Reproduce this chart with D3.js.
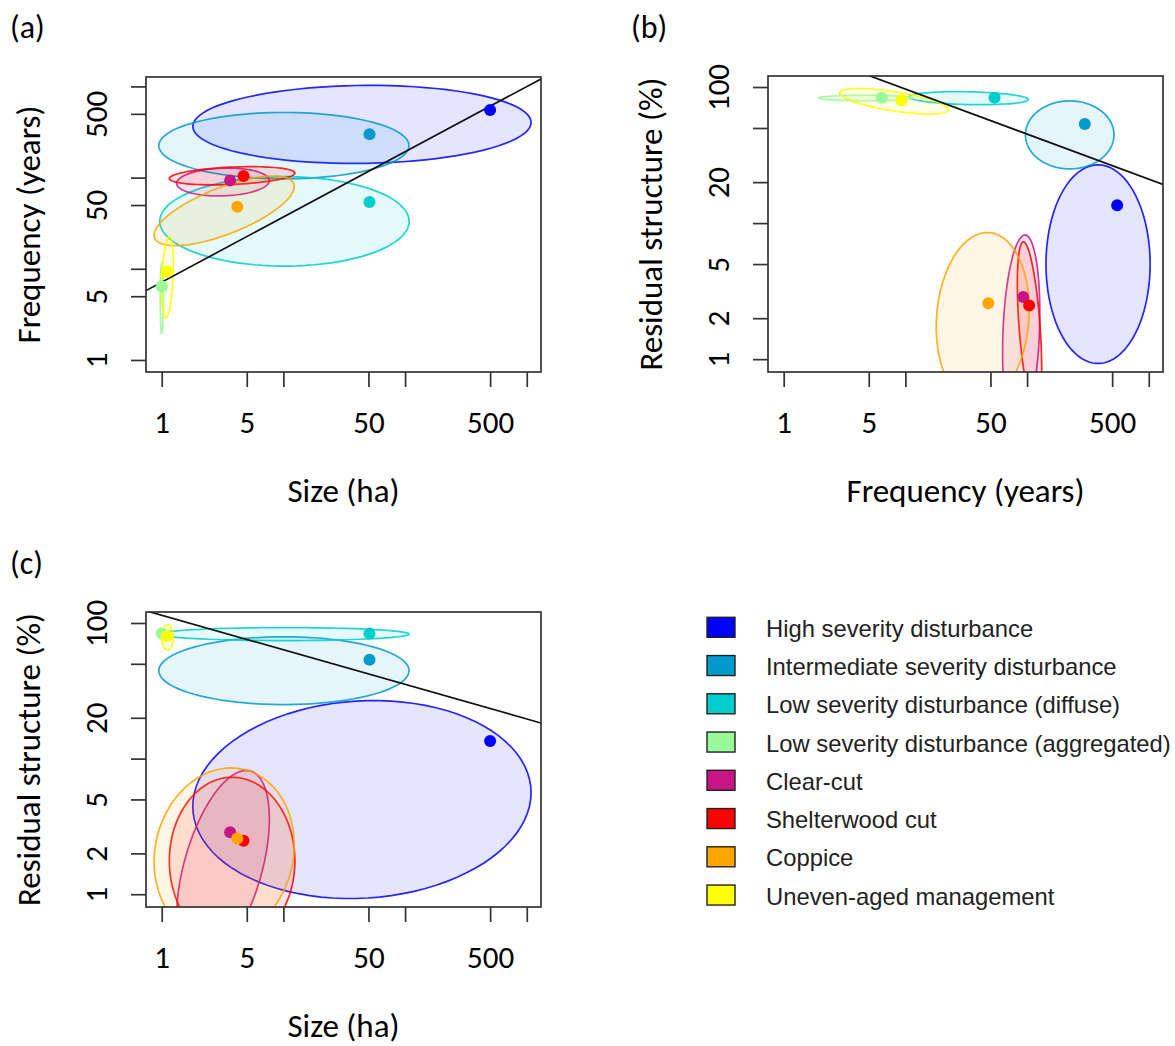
<!DOCTYPE html>
<html><head><meta charset="utf-8">
<script src="https://cdn.jsdelivr.net/npm/d3@7"></script>
<style>
body{margin:0;background:#fff;}
svg{display:block;}
</style></head><body>
<svg id="chart" width="1175" height="1046"></svg>
<script>
// ---------------- DATA ----------------
const groups = ["High severity disturbance","Intermediate severity disturbance","Low severity disturbance (diffuse)",
  "Low severity disturbance (aggregated)","Clear-cut","Shelterwood cut","Coppice","Uneven-aged management"];
const colors = ["#0000FF","#009ACD","#00CDCD","#98FB98","#C71585","#FF0000","#FFA500","#FFFF00"];

// group mean points
const sizeMean  = [500, 51, 51, 1.0, 3.65, 4.7, 4.18, 1.1];      // ha
const freqMean  = [550, 298, 54, 6.4, 93, 104, 48, 9.3];          // years
const residMean = [13.5, 53.5, 83.5, 83.5, 2.86, 2.48, 2.58, 80]; // %

// ellipse centres (data units) and half-widths (log10 decades)
const sizeCentre  = [44.2, 10.1, 10.2, 1.0, 3.19, 3.79, 3.26, 1.117];
const freqCentre  = [383, 224, 33.1, 4.72, 89.5, 104.7, 43.2, 8.07];
const residCentre = [4.99, 44.5, 82.8, 83, 1.58, 1.76, 2.0, 78.5];
const sizeSpread  = [1.39, 1.028, 1.025, 0.012, 0.381, 0.516, 0.576, 0.048];
const freqSpread  = [0.428, 0.364, 0.49, 0.386, 0.153, 0.10, 0.382, 0.448];
const residSpread = [0.73, 0.25, 0.048, 0.02, 0.714, 0.617, 0.63, 0.094];
const rhoSizeFreq  = [0.05, 0, 0, 0, 0.1, 0.3, 0.7, 0.3];
const rhoFreqResid = [0, 0, -0.2, 0, 0.2, -0.5, 0.1, -0.65];
const rhoSizeResid = [0.07, 0, 0, 0, 0.5, 0, 0.1, 0];

// regression lines in log10 space: [intercept, slope]
const fitSizeFreq  = [0.853, 0.715];
const fitFreqResid = [2.316, -0.331];
const fitSizeResid = [2.057, -0.255];

// axis limits and ticks
const sizeLim  = [0.743, 1309];
const freqLimX = [0.743, 1309];
const freqLimY = [0.738, 1268];
const residLim = [0.805, 120.5];
const logTicks    = [1, 5, 10, 50, 100, 500, 1000];
const logLabels   = [1, 5, 50, 500];
const residTicks  = [1, 2, 5, 10, 20, 50, 100];
const residLabels = [1, 2, 5, 20, 100];

// ---------------- DRAW ----------------
const svg = d3.select("#chart");
svg.append("rect").attr("width",1175).attr("height",1046).attr("fill","#fff");
const FONT = "Carlito, Lato, 'Open Sans', sans-serif";
const TICK_FS = 31, TITLE_FS = 33, TAG_FS = 32;
const AXC = "#333";

const panels = [
  {id:"a", box:{x0:146,x1:541,y0:77,y1:372}, xc:sizeCentre, xs:sizeSpread, xm:sizeMean, yc:freqCentre, ys:freqSpread, ym:freqMean,
   rho:rhoSizeFreq, fit:fitSizeFreq, xlim:sizeLim, ylim:freqLimY, yt:logTicks, yl:logLabels,
   xtitle:"Size (ha)", ytitle:"Frequency (years)", tag:"(a)", tagX:10, tagY:38},
  {id:"b", box:{x0:768,x1:1163,y0:76,y1:372}, xc:freqCentre, xs:freqSpread, xm:freqMean, yc:residCentre, ys:residSpread, ym:residMean,
   rho:rhoFreqResid, fit:fitFreqResid, xlim:freqLimX, ylim:residLim, yt:residTicks, yl:residLabels,
   xtitle:"Frequency (years)", ytitle:"Residual structure (%)", tag:"(b)", tagX:631, tagY:38},
  {id:"c", box:{x0:146,x1:541,y0:612,y1:907}, xc:sizeCentre, xs:sizeSpread, xm:sizeMean, yc:residCentre, ys:residSpread, ym:residMean,
   rho:rhoSizeResid, fit:fitSizeResid, xlim:sizeLim, ylim:residLim, yt:residTicks, yl:residLabels,
   xtitle:"Size (ha)", ytitle:"Residual structure (%)", tag:"(c)", tagX:10, tagY:574}
];

function ellipsePts(cx, cy, sx, sy, rho){
  const lx = Math.log10(cx), ly = Math.log10(cy), k = Math.sqrt(1 - rho*rho);
  return d3.range(0, 90).map(i => {
    const t = 2*Math.PI*i/90;
    return [Math.pow(10, lx + sx*Math.cos(t)), Math.pow(10, ly + sy*(rho*Math.cos(t) + k*Math.sin(t)))];
  });
}

panels.forEach(p => {
  const b = p.box;
  const x = d3.scaleLog().domain(p.xlim).range([b.x0, b.x1]);
  const y = d3.scaleLog().domain(p.ylim).range([b.y1, b.y0]);
  const g = svg.append("g");
  const clipId = "clip-" + p.id;
  svg.append("defs").append("clipPath").attr("id", clipId)
    .append("rect").attr("x", b.x0).attr("y", b.y0).attr("width", b.x1-b.x0).attr("height", b.y1-b.y0);
  const plot = g.append("g").attr("clip-path", `url(#${clipId})`);

  const line = d3.line().x(d => x(d[0])).y(d => y(d[1])).curve(d3.curveLinearClosed);
  groups.forEach((name, i) => {
    plot.append("path")
      .attr("d", line(ellipsePts(p.xc[i], p.yc[i], p.xs[i], p.ys[i], p.rho[i])))
      .attr("fill", colors[i]).attr("fill-opacity", 0.1)
      .attr("stroke", colors[i]).attr("stroke-opacity", 0.85).attr("stroke-width", 1.7);
  });

  // regression line
  const lx0 = Math.log10(p.xlim[0]), lx1 = Math.log10(p.xlim[1]);
  const fitPts = [lx0, lx1].map(l => [Math.pow(10, l), Math.pow(10, p.fit[0] + p.fit[1]*l)]);
  plot.append("path")
    .attr("d", d3.line().x(d => x(d[0])).y(d => y(d[1]))(fitPts))
    .attr("fill","none").attr("stroke","#111").attr("stroke-width",1.7);

  // points
  groups.forEach((name, i) => {
    plot.append("circle").attr("cx", x(p.xm[i])).attr("cy", y(p.ym[i])).attr("r", 6).attr("fill", colors[i]);
  });

  // box
  g.append("rect").attr("x", b.x0).attr("y", b.y0).attr("width", b.x1-b.x0).attr("height", b.y1-b.y0)
    .attr("fill","none").attr("stroke",AXC).attr("stroke-width",1.7);

  // x axis
  const gx = g.append("g").attr("transform", `translate(0,${b.y1})`)
    .call(d3.axisBottom(x).tickValues(logTicks).tickFormat(d => logLabels.includes(d) ? String(d) : "").tickSize(15));
  gx.select(".domain").remove();
  gx.selectAll(".tick line").attr("stroke",AXC).attr("stroke-width",1.7);
  gx.selectAll(".tick text").attr("y", 61).attr("dy", null)
    .attr("font-size", TICK_FS).attr("font-family", FONT).attr("fill","#000");

  // y axis
  const gy = g.append("g").attr("transform", `translate(${b.x0},0)`)
    .call(d3.axisLeft(y).tickValues(p.yt).tickFormat(d => p.yl.includes(d) ? String(d) : "").tickSize(15));
  gy.select(".domain").remove();
  gy.selectAll(".tick line").attr("stroke",AXC).attr("stroke-width",1.7);
  gy.selectAll(".tick text").attr("x", 0).attr("y", -39).attr("dy", null)
    .attr("transform","rotate(-90)").attr("text-anchor","middle")
    .attr("font-size", TICK_FS).attr("font-family", FONT).attr("fill","#000");

  // titles
  g.append("text").attr("x", (b.x0+b.x1)/2).attr("y", b.y1 + 130).attr("text-anchor","middle")
    .attr("font-size", TITLE_FS).attr("font-family", FONT).text(p.xtitle);
  g.append("text").attr("transform", `translate(${b.x0 - 106},${(b.y0+b.y1)/2}) rotate(-90)`)
    .attr("text-anchor","middle").attr("font-size", TITLE_FS).attr("font-family", FONT).text(p.ytitle);
  g.append("text").attr("x", p.tagX).attr("y", p.tagY).attr("font-size", TAG_FS).attr("font-family", FONT).text(p.tag);
});

// legend
const leg = svg.append("g");
groups.forEach((name, i) => {
  const cy = 627.3 + i*38.25;
  leg.append("rect").attr("x", 707).attr("y", cy-10).attr("width", 28).attr("height", 20)
    .attr("fill", colors[i]).attr("stroke","#222").attr("stroke-width",1.4);
  leg.append("text").attr("x", 766).attr("y", cy + 9.5)
    .attr("font-family","'Liberation Sans', Arial, sans-serif").attr("font-size", 23.8).attr("fill","#222").text(name);
});
</script>
</body></html>
